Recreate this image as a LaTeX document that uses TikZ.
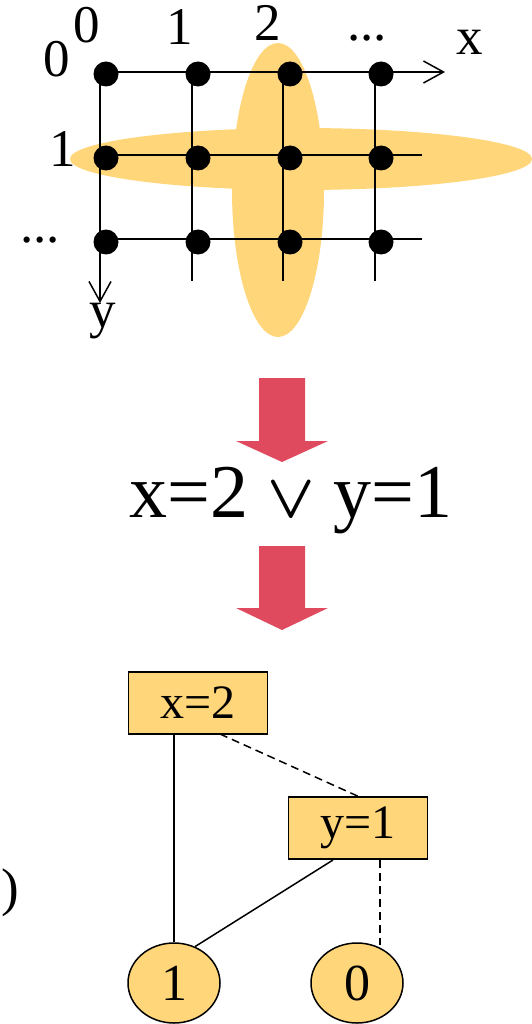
\RequirePackage{fix-cm}
\documentclass[tikz,border=0pt]{standalone}
\usepackage{fontspec}
\setmainfont{Liberation Serif}
\usetikzlibrary{arrows.meta,shapes.geometric}
\definecolor{hl}{HTML}{FFD67A}
\definecolor{arr}{HTML}{DF4A5E}
\tikzset{
  lbl/.style={inner sep=0pt, anchor=base, font=\fontsize{53}{55}\selectfont},
  big/.style={inner sep=0pt, anchor=base, font=\fontsize{76}{78}\selectfont},
  gridline/.style={line width=2pt},
  dot/.style={circle, fill=black, inner sep=0pt, minimum size=25pt},
  varbox/.style={draw, fill=hl, line width=1.5pt, minimum width=139pt, minimum height=62pt, inner sep=0pt, font=\fontsize{48}{50}\selectfont},
  leaf/.style={ellipse, draw, fill=hl, line width=1.5pt, minimum width=92pt, minimum height=80pt, inner sep=0pt, font=\fontsize{52}{54}\selectfont},
  bigarrow/.style={fill=arr, draw=none},
  edge1/.style={line width=1.5pt},
  edge0/.style={line width=1.5pt, dash pattern=on 8pt off 5pt},
  barb/.style={-{Straight Barb[length=20pt,width=22pt,line width=1.5pt]}},
}
\begin{document}
\begin{tikzpicture}[x=1pt,y=-1pt]
\useasboundingbox (0,0) rectangle (532,1024);
% highlight ellipses
\fill[hl] (301,159) ellipse [x radius=231, y radius=31];
\fill[hl] (278,190) ellipse [x radius=46, y radius=147];
% grid lines
\coordinate (o) at (100,72);
\coordinate (xend) at (445,72);
\coordinate (yend) at (100,303);
\draw[gridline,barb] (o) -- (xend);
\draw[gridline] (100,155) -- (422,155);
\draw[gridline] (100,239) -- (422,239);
\draw[gridline,barb] (o) -- (yend);
\draw[gridline] (192,72) -- (192,281);
\draw[gridline] (283,72) -- (283,281);
\draw[gridline] (375,72) -- (375,281);
% dots
\foreach \c/\x in {0/106,1/198,2/290,3/381}{
  \foreach \r/\y in {0/74,1/158,2/242}{
    \node[dot] (d\c\r) at (\x,\y) {};
  }
}
% labels
\node[lbl] (c0) at (87,43) {0};
\node[lbl] (c1) at (180,45) {1};
\node[lbl] (c2) at (268,41) {2};
\node[lbl] (c3) at (367,41) {...};
\node[lbl] (xl) at (470,55) {x};
\node[lbl] (r0) at (57,77) {0};
\node[lbl] (r1) at (63,167) {1};
\node[lbl] (r2) at (40,243) {...};
\node[lbl] (yl) at (103,327) {y};
% red arrows
\fill[bigarrow] (259,378) -- (305,378) -- (305,441) -- (328,441) -- (282,462) -- (236,441) -- (259,441) -- cycle;
\fill[bigarrow] (259,546) -- (305,546) -- (305,608) -- (328,608) -- (282,630) -- (236,608) -- (259,608) -- cycle;
% formula
\node[big] (f) at (291,517) {x=2 {\fontsize{62}{64}\selectfont\boldmath$\vee$} y=1};
% BDD
\node[varbox] (bx) at (198,703) {x=2};
\node[varbox] (by) at (358,828) {y=1};
\node[leaf] (one) at (174,983) {1};
\node[leaf] (zero) at (357,983) {0};
\coordinate (bxd) at (220,734);
\coordinate (byh) at (333,860);
\coordinate (byl) at (380,860);
\coordinate (zt) at (380,945);
\draw[edge1] (bx.south -| one) -- (one.north);
\draw[edge0] (bxd) -- (by.north);
\draw[edge1] (byh) -- (one.60);
\draw[edge0] (byl) -- (zt);
\node[lbl] (paren) at (10,905) {)};
\end{tikzpicture}
\end{document}
